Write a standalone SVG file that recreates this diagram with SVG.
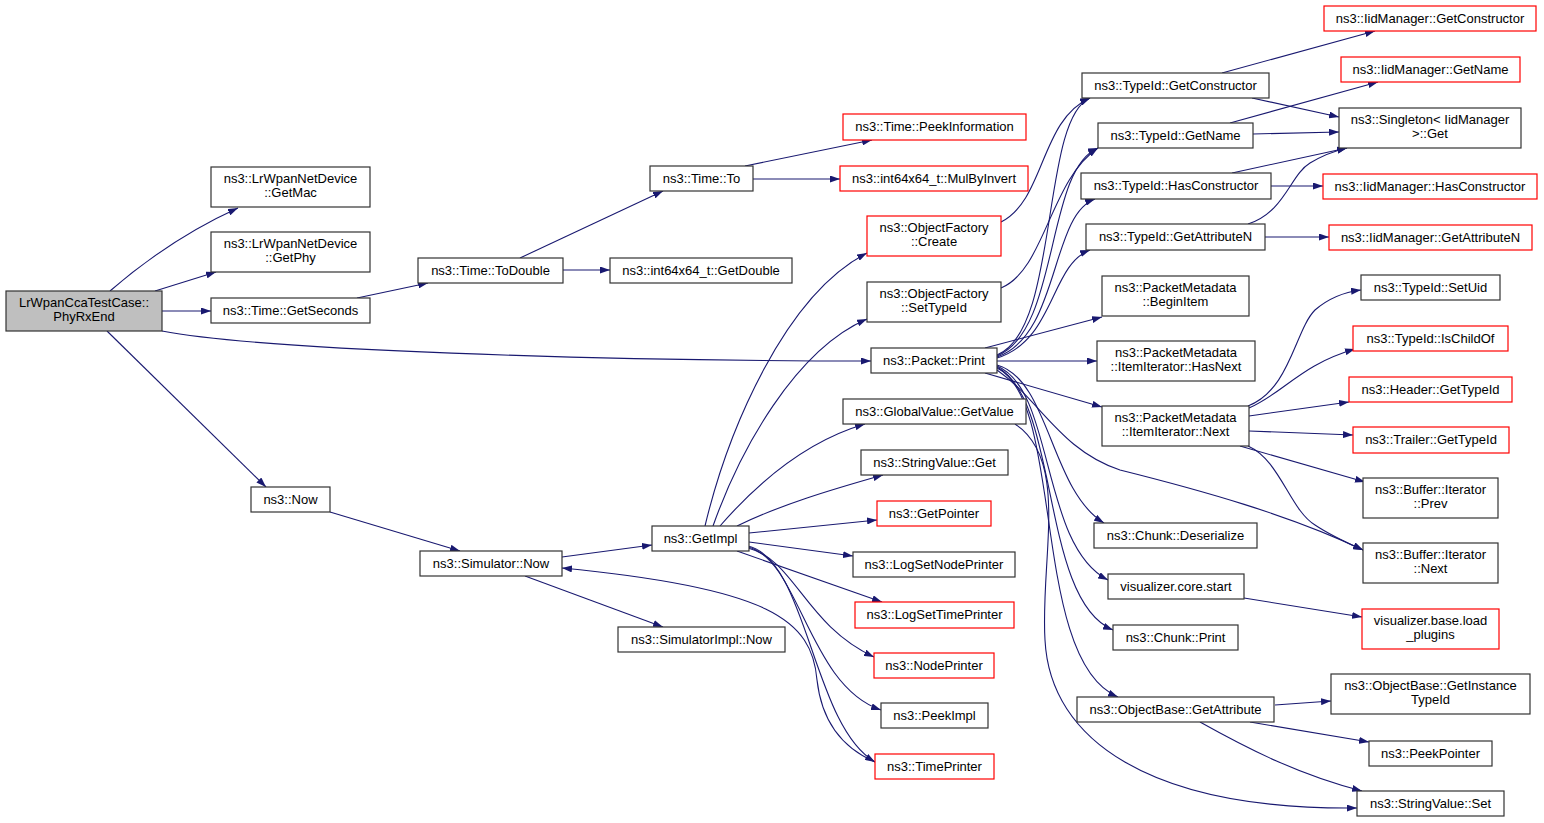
<svg xmlns="http://www.w3.org/2000/svg" width="1544" height="823" viewBox="0 0 1544 823">
<defs>
<marker id="a" markerWidth="10" markerHeight="7" refX="10" refY="3.5" orient="auto" markerUnits="userSpaceOnUse"><path d="M0,0L10,3.5L0,7z" fill="#191970"/></marker>
<style>
.n rect{fill:#fff;stroke:#333;stroke-width:1.2}
.r rect{fill:#fff;stroke:#ff0000;stroke-width:1.2}
.root rect{fill:#bfbfbf;stroke:#333;stroke-width:1.2}
text{font-family:"Liberation Sans",Arial,sans-serif;font-size:13px;text-anchor:middle;fill:#000}
#edges path{fill:none;stroke:#191970;stroke-width:1.1;marker-end:url(#a)}
</style>
</defs>
<rect width="1544" height="823" fill="#fff"/>
<g id="edges">
<path d="M110,291 C140,265 185,232 238,208"/>
<path d="M155,291 L216,272"/>
<path d="M162,311 L211,311"/>
<path d="M162,331 C260,350 600,361 871,361"/>
<path d="M107,331 L266,487"/>
<path d="M357,298 L428,283"/>
<path d="M520,258 L663,191"/>
<path d="M563,270 L610,270"/>
<path d="M745,166 L872,140"/>
<path d="M753,179 L840,179"/>
<path d="M330,512 L460,551"/>
<path d="M562,557 L652,545"/>
<path d="M525,576 L663,627"/>
<path d="M875,762 C838,746 821,716 817,680 C812,620 770,588 562,568"/>
<path d="M705,526 C728,430 785,295 867,253"/>
<path d="M713,526 C740,450 795,350 867,319"/>
<path d="M720,526 C760,480 810,440 865,424"/>
<path d="M737,526 C780,505 830,490 883,475"/>
<path d="M749,533 L877,520"/>
<path d="M749,542 L853,556"/>
<path d="M737,551 L882,602"/>
<path d="M748,548 C795,560 805,625 874,657"/>
<path d="M748,547 C800,560 808,685 881,710"/>
<path d="M748,546 C808,560 812,725 875,762"/>
<path d="M1001,222 C1045,200 1040,120 1090,98"/>
<path d="M1001,288 C1045,270 1050,180 1098,148"/>
<path d="M997,355 C1060,330 1040,120 1090,98"/>
<path d="M997,356 C1060,330 1045,170 1098,148"/>
<path d="M997,357 C1060,335 1050,215 1095,199"/>
<path d="M997,358 C1055,340 1050,265 1090,250"/>
<path d="M985,348 L1102,317"/>
<path d="M997,361 L1097,361"/>
<path d="M985,373 L1102,407"/>
<path d="M997,365 C1050,380 1050,490 1104,523"/>
<path d="M997,366 C1055,390 1040,545 1108,580"/>
<path d="M997,367 C1060,400 1040,600 1113,630"/>
<path d="M997,368 C1065,400 1030,660 1118,697"/>
<path d="M997,370 C1040,400 1060,450 1120,470 C1200,490 1290,515 1363,550"/>
<path d="M1015,424 C1070,460 1040,560 1045,640 C1050,740 1150,810 1357,808"/>
<path d="M1275,705 L1331,701"/>
<path d="M1250,722 L1369,742"/>
<path d="M1200,722 C1250,750 1300,775 1362,791"/>
<path d="M1244,598 L1362,617"/>
<path d="M1222,73 L1375,31"/>
<path d="M1252,98 L1339,117"/>
<path d="M1230,123 L1378,82"/>
<path d="M1253,134 L1339,132"/>
<path d="M1232,173 L1347,148"/>
<path d="M1271,186 L1323,186"/>
<path d="M1248,224 C1285,212 1290,175 1310,163 C1320,157 1330,152 1347,148"/>
<path d="M1265,237 L1329,237"/>
<path d="M1248,406 C1290,390 1295,330 1315,310 C1330,297 1345,292 1361,290"/>
<path d="M1249,408 C1285,392 1300,365 1355,349"/>
<path d="M1249,416 L1349,402"/>
<path d="M1249,431 L1353,435"/>
<path d="M1240,446 L1365,482"/>
<path d="M1248,446 C1280,460 1290,510 1315,525 C1330,535 1345,542 1363,550"/>
</g>
<g id="n0" class="root"><rect x="6" y="291" width="156" height="40"/><text x="84" y="307">LrWpanCcaTestCase::</text><text x="84" y="321">PhyRxEnd</text></g>
<g id="n1" class="n"><rect x="211" y="167" width="159" height="40"/><text x="290.5" y="183">ns3::LrWpanNetDevice</text><text x="290.5" y="197">::GetMac</text></g>
<g id="n2" class="n"><rect x="211" y="232" width="159" height="40"/><text x="290.5" y="248">ns3::LrWpanNetDevice</text><text x="290.5" y="262">::GetPhy</text></g>
<g id="n3" class="n"><rect x="211" y="298" width="159" height="25"/><text x="290.5" y="315">ns3::Time::GetSeconds</text></g>
<g id="n4" class="n"><rect x="251" y="487" width="79" height="25"/><text x="290.5" y="504">ns3::Now</text></g>
<g id="n5" class="n"><rect x="418" y="258" width="145" height="25"/><text x="490.5" y="275">ns3::Time::ToDouble</text></g>
<g id="n6" class="n"><rect x="650" y="166" width="103" height="25"/><text x="701.5" y="183">ns3::Time::To</text></g>
<g id="n7" class="n"><rect x="610" y="258" width="182" height="25"/><text x="701" y="275">ns3::int64x64_t::GetDouble</text></g>
<g id="n8" class="r"><rect x="843" y="114" width="183" height="26"/><text x="934.5" y="131">ns3::Time::PeekInformation</text></g>
<g id="n9" class="r"><rect x="840" y="166" width="188" height="25"/><text x="934" y="183">ns3::int64x64_t::MulByInvert</text></g>
<g id="n10" class="r"><rect x="867" y="216" width="134" height="40"/><text x="934" y="232">ns3::ObjectFactory</text><text x="934" y="246">::Create</text></g>
<g id="n11" class="n"><rect x="867" y="282" width="134" height="40"/><text x="934" y="298">ns3::ObjectFactory</text><text x="934" y="312">::SetTypeId</text></g>
<g id="n12" class="n"><rect x="871" y="348" width="126" height="25"/><text x="934" y="365">ns3::Packet::Print</text></g>
<g id="n13" class="n"><rect x="843" y="399" width="183" height="25"/><text x="934.5" y="416">ns3::GlobalValue::GetValue</text></g>
<g id="n14" class="n"><rect x="861" y="450" width="147" height="25"/><text x="934.5" y="467">ns3::StringValue::Get</text></g>
<g id="n15" class="r"><rect x="877" y="501" width="114" height="25"/><text x="934" y="518">ns3::GetPointer</text></g>
<g id="n16" class="n"><rect x="853" y="552" width="162" height="25"/><text x="934" y="569">ns3::LogSetNodePrinter</text></g>
<g id="n17" class="r"><rect x="855" y="602" width="159" height="26"/><text x="934.5" y="619">ns3::LogSetTimePrinter</text></g>
<g id="n18" class="r"><rect x="874" y="653" width="120" height="25"/><text x="934" y="670">ns3::NodePrinter</text></g>
<g id="n19" class="n"><rect x="881" y="703" width="107" height="25"/><text x="934.5" y="720">ns3::PeekImpl</text></g>
<g id="n20" class="r"><rect x="875" y="754" width="119" height="25"/><text x="934.5" y="771">ns3::TimePrinter</text></g>
<g id="n21" class="n"><rect x="420" y="551" width="142" height="25"/><text x="491" y="568">ns3::Simulator::Now</text></g>
<g id="n22" class="n"><rect x="652" y="526" width="97" height="25"/><text x="700.5" y="543">ns3::GetImpl</text></g>
<g id="n23" class="n"><rect x="618" y="627" width="167" height="25"/><text x="701.5" y="644">ns3::SimulatorImpl::Now</text></g>
<g id="n24" class="n"><rect x="1082" y="73" width="187" height="25"/><text x="1175.5" y="90">ns3::TypeId::GetConstructor</text></g>
<g id="n25" class="n"><rect x="1098" y="123" width="155" height="25"/><text x="1175.5" y="140">ns3::TypeId::GetName</text></g>
<g id="n26" class="n"><rect x="1081" y="173" width="190" height="26"/><text x="1176" y="190">ns3::TypeId::HasConstructor</text></g>
<g id="n27" class="n"><rect x="1086" y="224" width="179" height="26"/><text x="1175.5" y="241">ns3::TypeId::GetAttributeN</text></g>
<g id="n28" class="n"><rect x="1102" y="276" width="147" height="40"/><text x="1175.5" y="292">ns3::PacketMetadata</text><text x="1175.5" y="306">::BeginItem</text></g>
<g id="n29" class="n"><rect x="1097" y="341" width="158" height="40"/><text x="1176" y="357">ns3::PacketMetadata</text><text x="1176" y="371">::ItemIterator::HasNext</text></g>
<g id="n30" class="n"><rect x="1102" y="406" width="147" height="40"/><text x="1175.5" y="422">ns3::PacketMetadata</text><text x="1175.5" y="436">::ItemIterator::Next</text></g>
<g id="n31" class="n"><rect x="1094" y="523" width="163" height="25"/><text x="1175.5" y="540">ns3::Chunk::Deserialize</text></g>
<g id="n32" class="n"><rect x="1108" y="574" width="136" height="25"/><text x="1176" y="591">visualizer.core.start</text></g>
<g id="n33" class="n"><rect x="1113" y="625" width="125" height="25"/><text x="1175.5" y="642">ns3::Chunk::Print</text></g>
<g id="n34" class="n"><rect x="1077" y="697" width="197" height="25"/><text x="1175.5" y="714">ns3::ObjectBase::GetAttribute</text></g>
<g id="n35" class="r"><rect x="1324" y="6" width="212" height="25"/><text x="1430" y="23">ns3::IidManager::GetConstructor</text></g>
<g id="n36" class="r"><rect x="1341" y="57" width="179" height="25"/><text x="1430.5" y="74">ns3::IidManager::GetName</text></g>
<g id="n37" class="n"><rect x="1339" y="108" width="182" height="40"/><text x="1430" y="124">ns3::Singleton&lt; IidManager</text><text x="1430" y="138">&gt;::Get</text></g>
<g id="n38" class="r"><rect x="1323" y="174" width="214" height="25"/><text x="1430" y="191">ns3::IidManager::HasConstructor</text></g>
<g id="n39" class="r"><rect x="1329" y="225" width="203" height="25"/><text x="1430.5" y="242">ns3::IidManager::GetAttributeN</text></g>
<g id="n40" class="n"><rect x="1361" y="275" width="139" height="25"/><text x="1430.5" y="292">ns3::TypeId::SetUid</text></g>
<g id="n41" class="r"><rect x="1353" y="326" width="155" height="25"/><text x="1430.5" y="343">ns3::TypeId::IsChildOf</text></g>
<g id="n42" class="r"><rect x="1349" y="377" width="163" height="25"/><text x="1430.5" y="394">ns3::Header::GetTypeId</text></g>
<g id="n43" class="r"><rect x="1353" y="427" width="156" height="26"/><text x="1431" y="444">ns3::Trailer::GetTypeId</text></g>
<g id="n44" class="n"><rect x="1363" y="478" width="135" height="40"/><text x="1430.5" y="494">ns3::Buffer::Iterator</text><text x="1430.5" y="508">::Prev</text></g>
<g id="n45" class="n"><rect x="1363" y="543" width="135" height="40"/><text x="1430.5" y="559">ns3::Buffer::Iterator</text><text x="1430.5" y="573">::Next</text></g>
<g id="n46" class="r"><rect x="1362" y="609" width="137" height="40"/><text x="1430.5" y="625">visualizer.base.load</text><text x="1430.5" y="639">_plugins</text></g>
<g id="n47" class="n"><rect x="1331" y="674" width="199" height="40"/><text x="1430.5" y="690">ns3::ObjectBase::GetInstance</text><text x="1430.5" y="704">TypeId</text></g>
<g id="n48" class="n"><rect x="1369" y="741" width="123" height="25"/><text x="1430.5" y="758">ns3::PeekPointer</text></g>
<g id="n49" class="n"><rect x="1357" y="791" width="147" height="25"/><text x="1430.5" y="808">ns3::StringValue::Set</text></g>
</svg>
